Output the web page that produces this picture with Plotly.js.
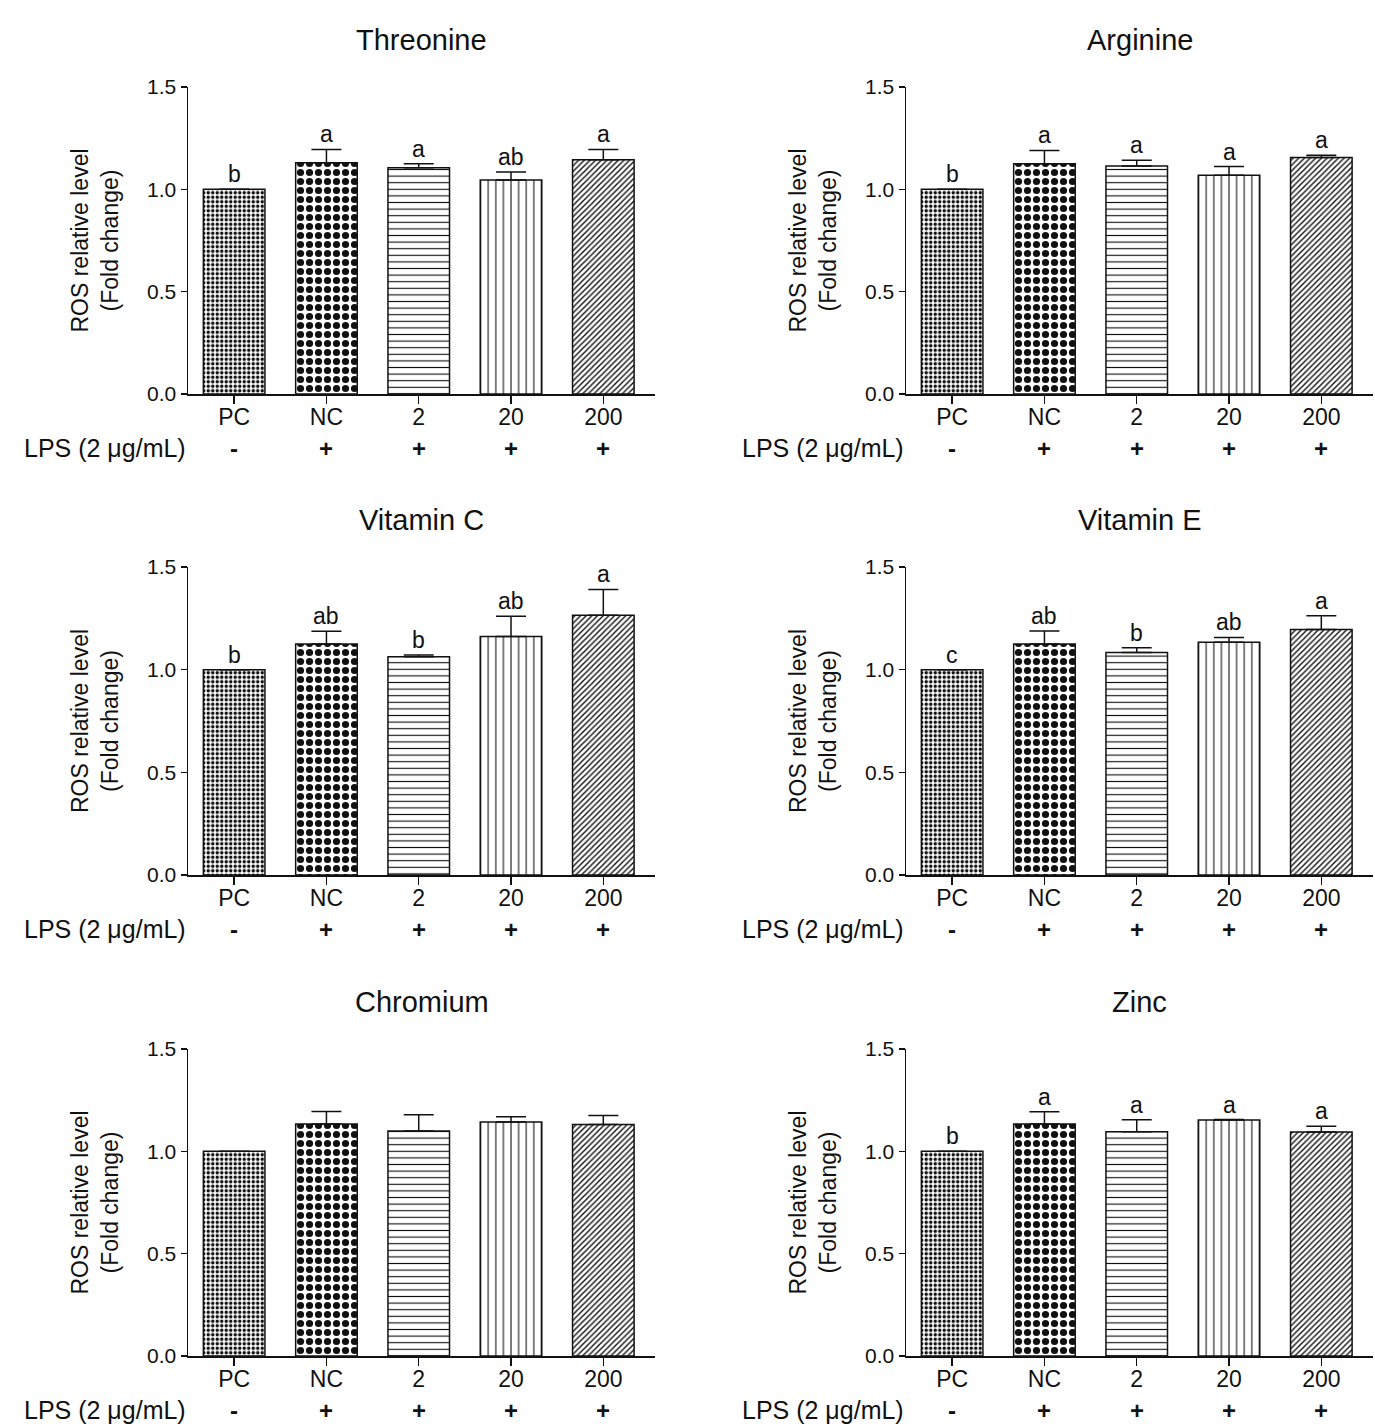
<!DOCTYPE html>
<html>
<head>
<meta charset="utf-8">
<script src="https://cdn.plot.ly/plotly-3.0.1.min.js"></script>
<style>
  html, body { margin: 0; padding: 0; background: #fff; }
  #chart { width: 1375px; height: 1426px; }
</style>
</head>
<body>
<div id="chart"></div>
<script>
// Treatment groups along the x axis and the LPS row beneath them
const categories = ['PC', 'NC', '2', '20', '200'];
const lpsSigns = ['-', '+', '+', '+', '+'];
const lpsLabel = 'LPS (2 \u03bcg/mL)';
const yTickValues = [0, 0.5, 1.0, 1.5];

// ROS fold change (mean), upper SD and significance letters per nutrient
const threonineMean = [1.00, 1.13, 1.105, 1.045, 1.145];
const threonineErr = [0, 0.065, 0.02, 0.04, 0.05];
const threonineLetters = ['b', 'a', 'a', 'ab', 'a'];

const arginineMean = [1.00, 1.125, 1.114, 1.069, 1.156];
const arginineErr = [0, 0.065, 0.028, 0.042, 0.01];
const arginineLetters = ['b', 'a', 'a', 'a', 'a'];

const vitaminCMean = [1.00, 1.125, 1.063, 1.162, 1.265];
const vitaminCErr = [0, 0.062, 0.008, 0.098, 0.126];
const vitaminCLetters = ['b', 'ab', 'b', 'ab', 'a'];

const vitaminEMean = [1.00, 1.125, 1.083, 1.133, 1.196];
const vitaminEErr = [0, 0.063, 0.024, 0.024, 0.067];
const vitaminELetters = ['c', 'ab', 'b', 'ab', 'a'];

const chromiumMean = [1.00, 1.133, 1.099, 1.143, 1.131];
const chromiumErr = [0, 0.062, 0.08, 0.026, 0.044];
const chromiumLetters = ['', '', '', '', ''];

const zincMean = [1.00, 1.133, 1.096, 1.153, 1.094];
const zincErr = [0, 0.06, 0.058, 0.002, 0.029];
const zincLetters = ['b', 'a', 'a', 'a', 'a'];

const panels = [
  { title: 'Threonine', mean: threonineMean, err: threonineErr, letters: threonineLetters },
  { title: 'Arginine', mean: arginineMean, err: arginineErr, letters: arginineLetters },
  { title: 'Vitamin C', mean: vitaminCMean, err: vitaminCErr, letters: vitaminCLetters },
  { title: 'Vitamin E', mean: vitaminEMean, err: vitaminEErr, letters: vitaminELetters },
  { title: 'Chromium', mean: chromiumMean, err: chromiumErr, letters: chromiumLetters },
  { title: 'Zinc', mean: zincMean, err: zincErr, letters: zincLetters }
];

// Hatch fill for each group: fine dots, coarse dots, horizontal, vertical, diagonal
const patternShapes = ['.', '.', '-', '|', '/'];
const patternSizes = [4.5, 9, 6.6, 7.6, 4];
const patternSolidity = [0.45, 0.5, 0.17, 0.14, 0.35];

const FONT = '"Liberation Sans", Arial, Helvetica, sans-serif';
const INK = '#111';
const W = 1375, H = 1426;

const colDomains = [[188 / W, 655 / W], [906 / W, 1373 / W]];
const rowDomains = [
  [1 - 394 / H, 1 - 87 / H],
  [1 - 875 / H, 1 - 567 / H],
  [1 - 1356 / H, 1 - 1049 / H]
];

const traces = [];
const annotations = [];
const layout = {
  width: W,
  height: H,
  margin: { l: 0, r: 0, t: 0, b: 0 },
  paper_bgcolor: '#fff',
  plot_bgcolor: '#fff',
  showlegend: false,
  font: { family: FONT, color: INK }
};

panels.forEach((p, i) => {
  const n = i + 1;
  const xa = n === 1 ? 'x' : 'x' + n;
  const ya = n === 1 ? 'y' : 'y' + n;
  const xKey = n === 1 ? 'xaxis' : 'xaxis' + n;
  const yKey = n === 1 ? 'yaxis' : 'yaxis' + n;
  const col = i % 2;
  const row = Math.floor(i / 2);

  traces.push({
    type: 'bar',
    x: categories,
    y: p.mean,
    xaxis: xa,
    yaxis: ya,
    width: 0.667,
    marker: {
      color: '#fff',
      line: { color: INK, width: 1.5 },
      pattern: {
        shape: patternShapes,
        size: patternSizes,
        solidity: patternSolidity,
        fgcolor: INK,
        bgcolor: '#fff',
        fillmode: 'replace'
      }
    },
    error_y: {
      type: 'data',
      symmetric: false,
      array: p.err,
      arrayminus: p.err.map(() => 0),
      color: INK,
      thickness: 1.5,
      width: 15
    },
    hoverinfo: 'skip'
  });

  layout[xKey] = {
    domain: colDomains[col],
    anchor: ya,
    type: 'category',
    range: [-0.5, 4.56],
    showline: true,
    linecolor: INK,
    linewidth: 1.5,
    ticks: 'outside',
    ticklen: 8,
    tickwidth: 1.5,
    tickcolor: INK,
    ticklabelstandoff: -6,
    tickfont: { family: FONT, size: 23, color: INK },
    showgrid: false,
    zeroline: false,
    fixedrange: true
  };

  layout[yKey] = {
    domain: rowDomains[row],
    anchor: xa,
    range: [0, 1.5],
    tickvals: yTickValues,
    tickformat: '.1f',
    showline: true,
    linecolor: INK,
    linewidth: 1.5,
    ticks: 'outside',
    ticklen: 6,
    tickwidth: 1.5,
    tickcolor: INK,
    tickfont: { family: FONT, size: 21, color: INK },
    showgrid: false,
    zeroline: false,
    fixedrange: true,
    title: {
      text: 'ROS relative level<br>(Fold change)',
      font: { family: FONT, size: 23, color: INK },
      standoff: 22
    }
  };

  // Panel heading
  annotations.push({
    xref: xa + ' domain', yref: ya + ' domain',
    x: 0.5, y: 1, yanchor: 'middle', yshift: 47,
    text: p.title, showarrow: false,
    font: { family: FONT, size: 29, color: INK }
  });

  // Significance letters above each error bar, and the LPS +/- row;
  // positions use the category index on the category axis
  categories.forEach((c, j) => {
    if (p.letters[j]) {
      annotations.push({
        xref: xa, yref: ya,
        x: j, y: p.mean[j] + p.err[j],
        yanchor: 'bottom', yshift: 0,
        text: p.letters[j], showarrow: false,
        font: { family: FONT, size: 23, color: INK }
      });
    }
    annotations.push({
      xref: xa, yref: ya + ' domain',
      x: j, y: 0, yanchor: 'middle', yshift: -54,
      text: lpsSigns[j], showarrow: false,
      font: { family: FONT, size: 24, color: INK, weight: 'bold' }
    });
  });

  annotations.push({
    xref: xa + ' domain', yref: ya + ' domain',
    x: 0, y: 0, xanchor: 'right', yanchor: 'middle',
    xshift: 0, yshift: -54,
    text: lpsLabel, showarrow: false,
    font: { family: FONT, size: 25, color: INK }
  });
});

layout.annotations = annotations;

Plotly.newPlot('chart', traces, layout, { staticPlot: true, displayModeBar: false });
</script>
</body>
</html>
